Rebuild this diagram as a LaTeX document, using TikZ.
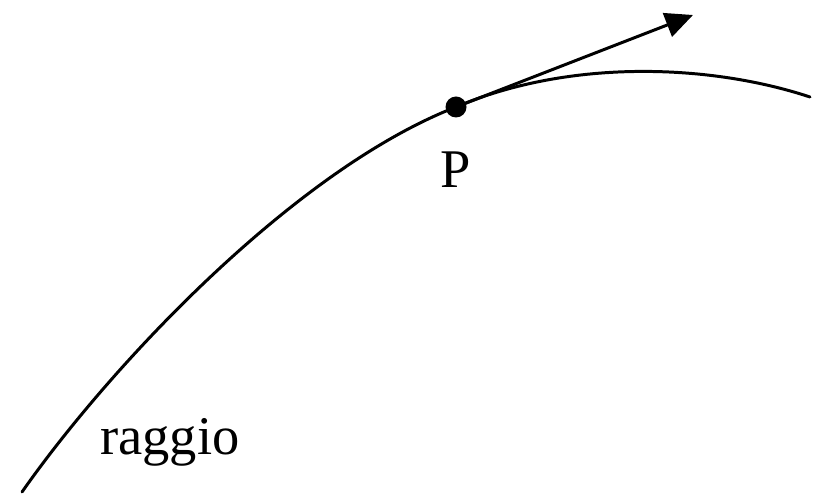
\documentclass[tikz,border=0pt]{standalone}
\usepackage{fontspec}
\setmainfont{Liberation Serif}
\usetikzlibrary{arrows.meta}

\begin{document}
\begin{tikzpicture}[every node/.style={font=\fontsize{31}{34}\selectfont},
  ray/.style={line width=1.7pt,line cap=round},
  tang/.style={-{Triangle[length=5.5mm,width=5mm]},line width=1.7pt},
  dot/.style={circle,fill=black,inner sep=0pt,minimum size=4.2mm}]
\useasboundingbox (0,0) rectangle (16.28,9.9);

\coordinate (s) at (0.44,0.06);
\node[dot] (p) at (9.12,7.76) {};
\coordinate (e) at (16.2,7.96);
\coordinate (t) at (13.86,9.6);

% il raggio, tangente alla freccia in P
\draw[ray] (s) .. controls (2.16,2.52) and (5.86,6.49) .. (p.center)
  .. controls (11.45,8.75) and (14.27,8.6) .. (e);
\draw[tang] (p.center) -- (t);

\node (lp) at (9.12,6.5) {P};
\node (lr) at (3.4,1.05) {raggio};
\end{tikzpicture}
\end{document}
